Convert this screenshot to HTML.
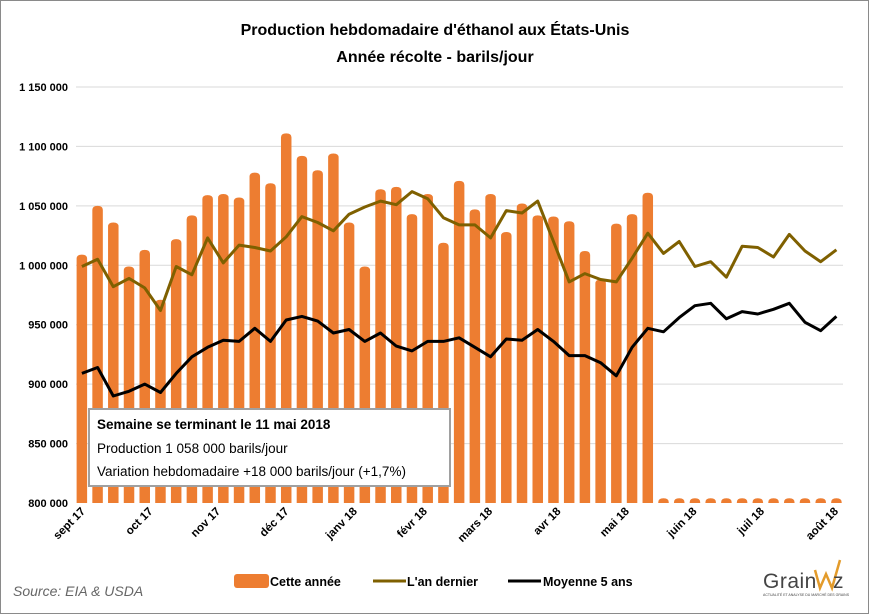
<!DOCTYPE html>
<html><head><meta charset="utf-8"><style>
html,body{margin:0;padding:0;background:#fff}
svg{display:block;font-family:"Liberation Sans",sans-serif}
</style></head><body>
<svg id="chart" width="869" height="614" viewBox="0 0 869 614">
<rect x="0.5" y="0.5" width="868" height="613" fill="#fff" stroke="#8a8a8a"/>
<text x="435" y="35" text-anchor="middle" font-size="16" font-weight="bold">Production hebdomadaire d'éthanol aux États-Unis</text>
<text x="435" y="62" text-anchor="middle" font-size="16" font-weight="bold">Année récolte - barils/jour</text>
<g id="grid"></g>
<g id="bars"></g>
<g id="lines"></g>
<g id="xlabels"></g>
<g>
<rect x="89" y="409" width="361" height="77" fill="#fff" stroke="#a0a0a0" stroke-width="2"/>
<text x="97" y="429" font-size="13.5" font-weight="bold">Semaine se terminant le 11 mai 2018</text>
<text x="97" y="453" font-size="13.5">Production 1 058 000 barils/jour</text>
<text x="97" y="476" font-size="13.5">Variation hebdomadaire +18 000 barils/jour (+1,7%)</text>
</g>
<text x="13" y="596" font-size="14" font-style="italic" fill="#666">Source: EIA &amp; USDA</text>
<g>
<rect x="234" y="574" width="35" height="14" rx="3" fill="#ED7D31"/>
<text x="270" y="586" font-size="12.5" font-weight="bold">Cette année</text>
<line x1="373" y1="581" x2="406" y2="581" stroke="#7F6000" stroke-width="3"/>
<text x="407" y="586" font-size="12.5" font-weight="bold">L'an dernier</text>
<line x1="508" y1="581" x2="541" y2="581" stroke="#000" stroke-width="3"/>
<text x="543" y="586" font-size="12.5" font-weight="bold">Moyenne 5 ans</text>
</g>
<g>
<text x="763" y="588" font-size="21" fill="#444" letter-spacing="0.5">Grain</text>
<polyline points="815,570 820,588 826,574 832,588 840,560" fill="none" stroke="#E39B2B" stroke-width="2.5"/>
<text x="833" y="588" font-size="21" fill="#444">z</text>
<text x="763" y="596" font-size="3.5" fill="#444">ACTUALITÉ ET ANALYSE DU MARCHÉ DES GRAINS</text>
</g>
</svg>
<script>
const yTicks = [800000, 850000, 900000, 950000, 1000000, 1050000, 1100000, 1150000];
const xLabels = ["sept 17","oct 17","nov 17","déc 17","janv 18","févr 18","mars 18","avr 18","mai 18","juin 18","juil 18","août 18"];
const xLabelWeek = [0, 4.3, 8.6, 12.95, 17.3, 21.75, 25.9, 30.25, 34.6, 38.9, 43.2, 47.9];
const thisYear = [1009,1050,1036,999,1013,971,1022,1042,1059,1060,1057,1078,1069,1111,1092,1080,1094,1036,999,1064,1066,1043,1060,1019,1071,1047,1060,1028,1052,1042,1041,1037,1012,988,1035,1043,1061];
const lastYear = [999,1005,982,989,981,962,999,992,1023,1002,1017,1015,1012,1024,1041,1036,1029,1043,1049,1054,1051,1062,1056,1040,1034,1034,1023,1046,1044,1054,1020,986,993,988,986,1006,1027,1010,1020,999,1003,990,1016,1015,1007,1026,1012,1003,1013];
const avg5 = [909,914,890,894,900,893,909,923,931,937,936,947,936,954,957,953,943,946,936,943,932,928,936,936,939,931,923,938,937,946,936,924,924,918,907,931,947,944,956,966,968,955,961,959,963,968,952,945,957];
const nWeeks = 49;
const NS = "http://www.w3.org/2000/svg";
const x0 = 74, slot = 15.72;
function xPos(i){ return x0 + slot*(i+0.5); }
function yPos(v){ return 503 - (v - 800000) * 416 / 350000; }
function mk(tag, attrs, parent){ const e=document.createElementNS(NS,tag); for(const k in attrs) e.setAttribute(k,attrs[k]); parent.appendChild(e); return e; }
const grid=document.getElementById('grid');
yTicks.forEach(t=>{
  const y=yPos(t);
  if(t>800000){ const l=mk('line',{x1:76,x2:843,y1:y,y2:y,stroke:'#d9d9d9','stroke-width':1},grid);
  
   }
  const tx=mk('text',{x:68,y:y+4,'text-anchor':'end','font-size':11,'font-weight':'bold'},grid);
  tx.textContent=t.toLocaleString('fr-FR').replace(/\u202f|\u00a0/g,' ');
  
  
});
const bars=document.getElementById('bars');
for(let i=0;i<nWeeks;i++){
  const v = i<thisYear.length ? thisYear[i]*1000 : 804000;
  const y=yPos(v), h=503-y, w=10.5;
  const b=mk('path',{d:`M${xPos(i)-w/2},503 V${y+4} Q${xPos(i)-w/2},${y} ${xPos(i)},${y} Q${xPos(i)+w/2},${y} ${xPos(i)+w/2},${y+4} V503 Z`,fill:'#ED7D31'},bars);
  
  
}
const lines=document.getElementById('lines');
function drawLine(arr,color,name){
  const pts=arr.map((v,i)=>xPos(i).toFixed(1)+','+yPos(v*1000).toFixed(1)).join(' ');
  const p=mk('polyline',{points:pts,fill:'none',stroke:color,'stroke-width':3,'stroke-linejoin':'round'},lines);
  
  
}
drawLine(lastYear,'#7F6000','line-last-year');
drawLine(avg5,'#000','line-5yr-average');
const xl=document.getElementById('xlabels');
xLabels.forEach((s,i)=>{
  const x=xPos(xLabelWeek[i])+4, y=512;
  const t=mk('text',{x:x,y:y,'text-anchor':'end','font-size':11.5,'font-weight':'bold',transform:`rotate(-45 ${x} ${y})`},xl);
  t.textContent=s;
  
  
});
</script>
</body></html>
